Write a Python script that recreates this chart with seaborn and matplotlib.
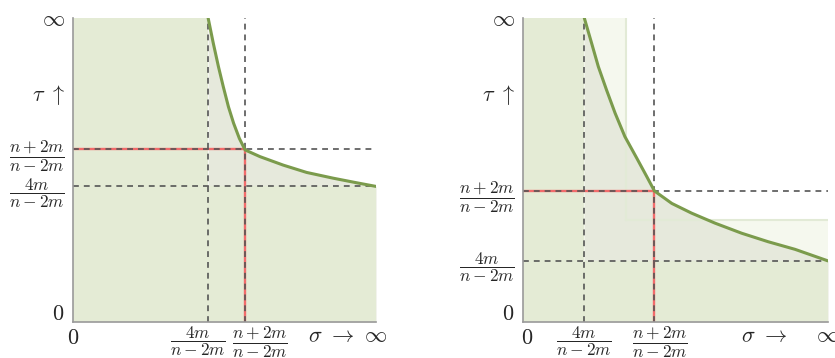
import matplotlib
matplotlib.use('Agg')
import matplotlib.pyplot as plt
import matplotlib.transforms as mtrans
import seaborn as sns

sns.set_style('white')
plt.rcParams['mathtext.fontset'] = 'cm'
plt.rcParams['font.family'] = ['DejaVu Serif']

# boundary curve (sigma, tau), axes scaled to [0, 1] with 1 = infinity
left_sigma = [0.446, 0.463, 0.480, 0.496, 0.513, 0.530, 0.549, 0.568,
              0.617, 0.694, 0.771, 0.859, 0.936, 1.0]
left_tau = [1.0, 0.917, 0.840, 0.774, 0.708, 0.654, 0.604, 0.566,
            0.544, 0.516, 0.492, 0.473, 0.458, 0.446]
right_sigma = [0.201, 0.225, 0.247, 0.274, 0.302, 0.334, 0.373, 0.406, 0.431,
               0.488, 0.553, 0.630, 0.717, 0.804, 0.892, 1.0]
right_tau = [1.0, 0.917, 0.840, 0.763, 0.687, 0.610, 0.539, 0.478, 0.431,
             0.390, 0.358, 0.325, 0.292, 0.264, 0.239, 0.201]

# threshold positions: 4m/(n-2m) and (n+2m)/(n-2m)
left_low, left_high = 0.446, 0.568
right_low, right_high = 0.201, 0.431
right_band = 0.337

frac_low = r'$\dfrac{4m}{n-2m}$'
frac_high = r'$\dfrac{n+2m}{n-2m}$'

green = '#e4ebd5'
grey_green = '#e6e9dc'
pale = '#f5f8ee'
curve_col = '#7b9b4c'
dash_col = '#555555'


def shift(label, dx, dy):
    label.set_transform(label.get_transform() +
                        mtrans.ScaledTranslation(dx / 100, dy / 100, fig.dpi_scale_trans))


def draw_panel(ax, sigma, tau, low, high, sigma_pos, band=None):
    if band is not None:
        ax.fill_between([0, band], 0, 1, color=pale, lw=0)
        ax.fill_between([0, 1], 0, band, color=pale, lw=0)
        ax.plot([band, band], [band, 1], color='#e2ead6', lw=1.5)
        ax.plot([band, 1], [band, band], color='#e2ead6', lw=1.5)
    ax.fill_between(sigma, 0, tau, color=grey_green, lw=0)
    ax.fill_between([0, low], 0, 1, color=green, lw=0)
    ax.fill_between([0, 1], 0, low, color=green, lw=0)

    # red guides to the corner point
    ax.plot([0, high], [high, high], color='#f26b6b', lw=1.7)
    ax.plot([high, high], [0, high], color='#f26b6b', lw=1.7)
    for v in (low, high):
        ax.axvline(v, color=dash_col, ls=(0, (3.5, 3)), lw=1.2)
        ax.axhline(v, color=dash_col, ls=(0, (3.5, 3)), lw=1.2)

    sns.lineplot(x=sigma, y=tau, ax=ax, color=curve_col, lw=2.2, sort=False,
                 solid_joinstyle='round', solid_capstyle='round')

    ax.set_xlim(0, 1)
    ax.set_ylim(0, 1)
    ax.set_xticks([0, low, high, sigma_pos, 1])
    ax.set_xticklabels(['$0$', frac_low, frac_high, r'$\sigma\ \rightarrow$', r'$\infty$'])
    ax.set_yticks([0, low, high, 0.757, 1])
    ax.set_yticklabels(['$0$', frac_low, frac_high, r'$\tau\ \uparrow$', r'$\infty$'])
    ax.tick_params(axis='x', length=0, labelsize=16, pad=2)
    ax.tick_params(axis='y', length=0, labelsize=16, pad=6)
    for lab in ax.get_xticklabels()[1:3] + ax.get_yticklabels()[1:3]:
        lab.set_fontsize(12.5)
    for side in ('top', 'right'):
        ax.spines[side].set_visible(False)
    for side in ('left', 'bottom'):
        ax.spines[side].set_color('#9a9a9a')
        ax.spines[side].set_linewidth(1.2)


fig = plt.figure(figsize=(8.35, 3.58), dpi=100)
ax1 = fig.add_axes([73 / 835, 36 / 358, 303 / 835, 304 / 358])
ax2 = fig.add_axes([523 / 835, 36 / 358, 305 / 835, 304 / 358])

draw_panel(ax1, left_sigma, left_tau, left_low, left_high, 0.85)
draw_panel(ax2, right_sigma, right_tau, right_low, right_high, 0.79, band=right_band)

xl1 = ax1.get_xticklabels()
shift(xl1[1], -10, 0)
shift(xl1[2], 15, 0)
shift(xl1[0], 0, -2)
shift(ax1.get_yticklabels()[0], 0, 10)
xl2 = ax2.get_xticklabels()
shift(xl2[0], 4, -2)
shift(xl2[2], 6, 0)
shift(ax2.get_yticklabels()[0], 0, 10)

fig.savefig('out.png', dpi=100)
